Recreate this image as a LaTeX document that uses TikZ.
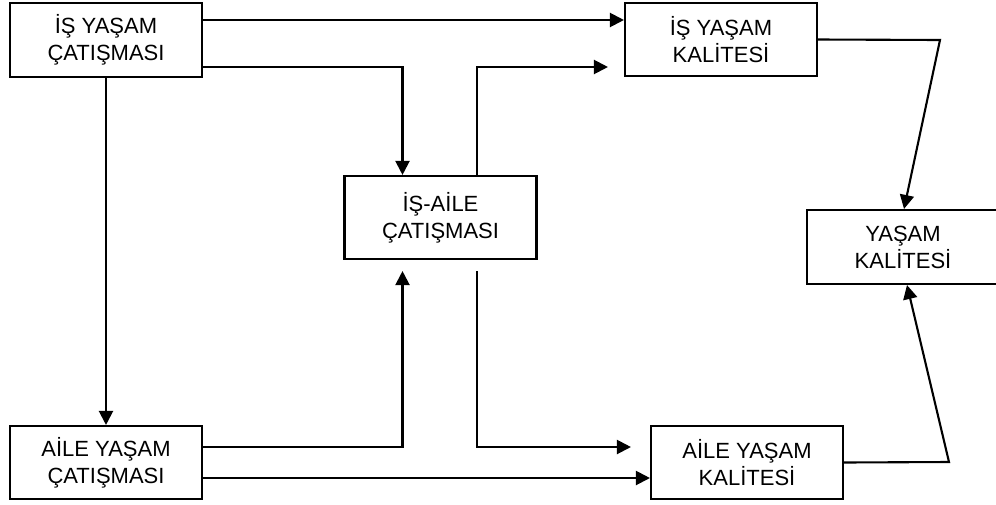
\documentclass[tikz,border=0pt]{standalone}
\usepackage{fontspec}
\setmainfont{Liberation Sans}
\usepackage{tikz}
\usetikzlibrary{arrows.meta}
\definecolor{inkblack}{HTML}{000000}

\tikzset{
  box/.style={draw=inkblack, line width=2.1pt, fill=white, align=center,
    inner sep=0pt, minimum width=192pt,
    font=\fontsize{22}{27}\selectfont\color{inkblack}},
  flow/.style={draw=inkblack, line width=2.1pt, -{Triangle[length=14pt,width=14pt]}},
}

\begin{document}
\begin{tikzpicture}[x=1pt,y=-1pt]
\useasboundingbox (0,0) rectangle (996,504);
% Six Boxes
\foreach \boxname/\bx/\by/\bh/\boxtext in {
  iscatisma/106/40/74/{İŞ YAŞAM\\ÇATIŞMASI},
  iskalite/721/39.5/73/{İŞ YAŞAM\\KALİTESİ},
  isaile/440.5/217.5/83/{İŞ-AİLE\\ÇATIŞMASI},
  yasamkalite/903/247/74/{YAŞAM\\KALİTESİ},
  ailecatisma/106/462.5/73/{AİLE YAŞAM\\ÇATIŞMASI},
  ailekalite/747/462.5/73/{AİLE YAŞAM\\KALİTESİ}}{
  \node[box, minimum height=\bh pt] (\boxname) at (\bx,\by) {\boxtext};
}
% Work Side
\draw[flow] (iscatisma.east |- 0,20) -- (iskalite.west |- 0,20);
\draw[flow] (iscatisma.east |- 0,67) -| ([xshift=-38]isaile.north);
\draw[flow, shorten >=16pt] ([xshift=36.5]isaile.north) |- (iskalite.west |- 0,67);
\draw[flow] (iscatisma.south) -- (ailecatisma.north);
% Family Side
\draw[flow, shorten >=11pt] (ailecatisma.east |- 0,447) -| ([xshift=-38]isaile.south);
\draw[flow, shorten <=11pt, shorten >=19pt] ([xshift=36.5]isaile.south) |- (ailekalite.west |- 0,447);
\draw[flow] (ailecatisma.east |- 0,478) -- (ailekalite.west |- 0,478);
% Into Life Quality
\coordinate (topbend) at (940,40);
\coordinate (lowbend) at (949,462);
\draw[flow] (iskalite.east) -- (topbend) -- ([xshift=1]yasamkalite.north);
\draw[flow] (ailekalite.east) -- (lowbend) -- ([xshift=4]yasamkalite.south);
\end{tikzpicture}
\end{document}
